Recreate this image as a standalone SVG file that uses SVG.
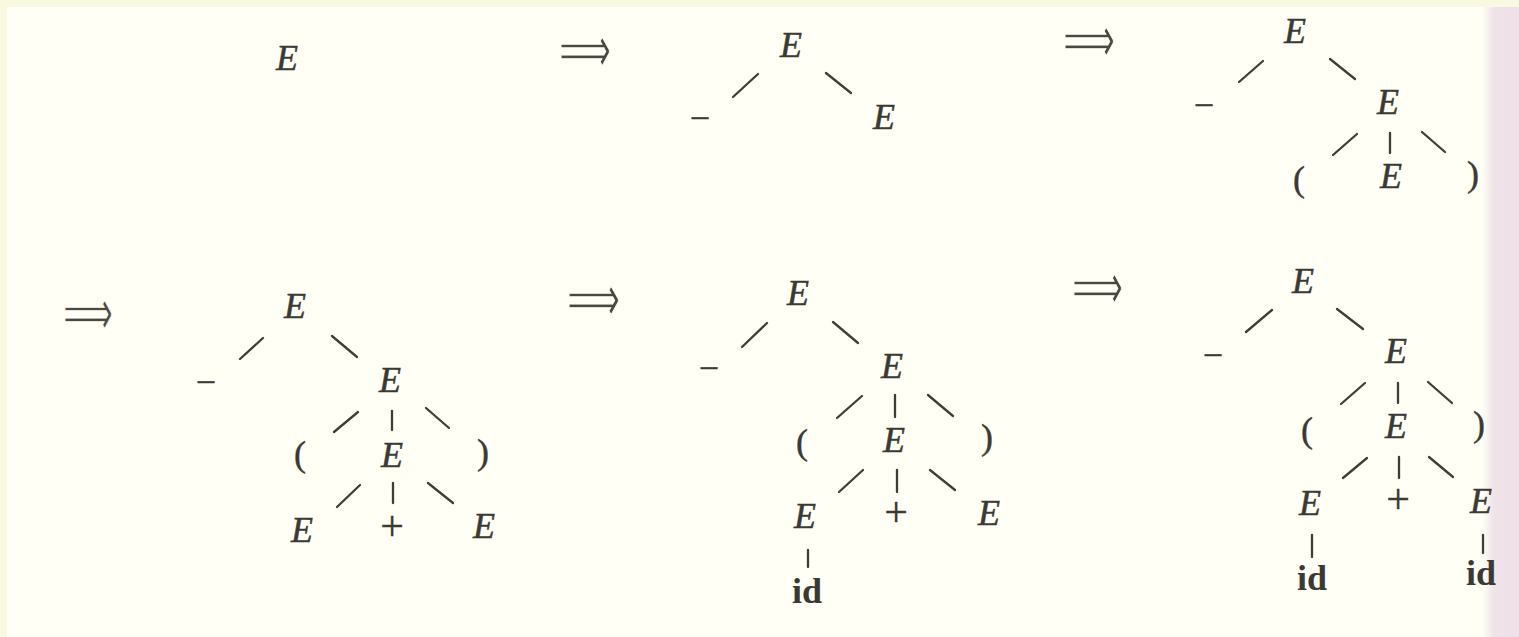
<svg xmlns="http://www.w3.org/2000/svg" width="1519" height="637" viewBox="0 0 1519 637">
<defs>
<style>
.e{font-family:"Liberation Serif",serif;font-style:italic;font-size:36px;fill:#3a3933;stroke:#3a3933;stroke-width:0.5;text-anchor:middle}
.t{font-family:"Liberation Serif",serif;font-size:36px;fill:#3a3933;stroke:#3a3933;stroke-width:0.4;text-anchor:middle}
.p{font-family:"Liberation Serif",serif;font-size:42px;fill:#3a3933;stroke:#3a3933;stroke-width:0.3;text-anchor:middle}
.b{font-family:"Liberation Serif",serif;font-weight:bold;font-size:36px;fill:#3a3933;text-anchor:middle}
.arr{font-family:"DejaVu Sans",sans-serif;font-size:66px;fill:#4a4842;stroke:#fffff5;stroke-width:1.3;text-anchor:start}
.c line{stroke:#3f3d37;stroke-width:2.3;stroke-linecap:round}
</style>
<linearGradient id="edge" x1="1482" y1="0" x2="1519" y2="0" gradientUnits="userSpaceOnUse">
<stop offset="0" stop-color="#f2e6ea" stop-opacity="0"/>
<stop offset="0.3" stop-color="#efe4e8" stop-opacity="1"/>
<stop offset="1" stop-color="#f1dfe9" stop-opacity="1"/>
</linearGradient>
</defs>
<rect x="0" y="0" width="1519" height="637" fill="#f9f8e1"/>
<rect x="7" y="7" width="1512" height="630" fill="#fffff5"/>
<rect x="1482" y="7" width="37" height="630" fill="url(#edge)"/>

<g id="arrows">
<text class="arr" x="559" y="72" textLength="52" lengthAdjust="spacingAndGlyphs">⟹</text>
<text class="arr" x="1063" y="62" textLength="52" lengthAdjust="spacingAndGlyphs">⟹</text>
<text class="arr" x="63" y="335" textLength="50" lengthAdjust="spacingAndGlyphs">⟹</text>
<text class="arr" x="567" y="321" textLength="53" lengthAdjust="spacingAndGlyphs">⟹</text>
<text class="arr" x="1072" y="309" textLength="51" lengthAdjust="spacingAndGlyphs">⟹</text>
</g>

<g id="connectors" class="c">
<line x1="733" y1="97" x2="758" y2="74"/>
<line x1="826" y1="73" x2="851" y2="93"/>
<line x1="1239" y1="82" x2="1263" y2="61"/>
<line x1="1330" y1="59" x2="1355" y2="79"/>
<line x1="1333" y1="155" x2="1357" y2="134"/>
<line x1="1390" y1="133" x2="1390" y2="153"/>
<line x1="1422" y1="132" x2="1445" y2="152"/>
<line x1="240" y1="359" x2="263" y2="338"/>
<line x1="332" y1="336" x2="357" y2="357"/>
<line x1="334" y1="432" x2="358" y2="412"/>
<line x1="392" y1="411" x2="392" y2="430"/>
<line x1="426" y1="408" x2="449" y2="428"/>
<line x1="337" y1="507" x2="360" y2="485"/>
<line x1="393" y1="483" x2="393" y2="503"/>
<line x1="428" y1="483" x2="453" y2="503"/>
<line x1="742" y1="347" x2="767" y2="323"/>
<line x1="833" y1="322" x2="858" y2="343"/>
<line x1="837" y1="418" x2="862" y2="396"/>
<line x1="895" y1="395" x2="895" y2="417"/>
<line x1="928" y1="395" x2="953" y2="416"/>
<line x1="839" y1="492" x2="863" y2="470"/>
<line x1="897" y1="470" x2="897" y2="492"/>
<line x1="930" y1="470" x2="955" y2="490"/>
<line x1="808" y1="550" x2="808" y2="567"/>
<line x1="1246" y1="332" x2="1272" y2="310"/>
<line x1="1337" y1="309" x2="1363" y2="329"/>
<line x1="1341" y1="404" x2="1365" y2="383"/>
<line x1="1398" y1="383" x2="1398" y2="403"/>
<line x1="1428" y1="382" x2="1452" y2="403"/>
<line x1="1343" y1="478" x2="1367" y2="458"/>
<line x1="1399" y1="457" x2="1399" y2="478"/>
<line x1="1429" y1="457" x2="1453" y2="477"/>
<line x1="1312" y1="535" x2="1312" y2="557"/>
<line x1="1483" y1="535" x2="1483" y2="553"/>
</g>

<g id="t1_E"><text class="e" x="287" y="70">E</text></g>

<g id="t2_E"><text class="e" x="791" y="57">E</text></g>
<g id="t2_minus"><text class="t" x="700" y="130">−</text></g>
<g id="t2_E2"><text class="e" x="884" y="129">E</text></g>

<g id="t3_E"><text class="e" x="1295" y="43">E</text></g>
<g id="t3_minus"><text class="t" x="1204" y="117">−</text></g>
<g id="t3_E2"><text class="e" x="1388" y="114">E</text></g>
<g id="t3_lp"><text class="t" x="1299" y="191">(</text></g>
<g id="t3_E3"><text class="e" x="1391" y="188">E</text></g>
<g id="t3_rp"><text class="t" x="1473" y="186">)</text></g>

<g id="t4_E"><text class="e" x="295" y="318">E</text></g>
<g id="t4_minus"><text class="t" x="206" y="394">−</text></g>
<g id="t4_E2"><text class="e" x="390" y="392">E</text></g>
<g id="t4_lp"><text class="t" x="300" y="466">(</text></g>
<g id="t4_E3"><text class="e" x="392" y="467">E</text></g>
<g id="t4_rp"><text class="t" x="483" y="464">)</text></g>
<g id="t4_E4"><text class="e" x="302" y="542">E</text></g>
<g id="t4_plus"><text class="p" x="392" y="540">+</text></g>
<g id="t4_E5"><text class="e" x="484" y="538">E</text></g>

<g id="t5_E"><text class="e" x="798" y="305">E</text></g>
<g id="t5_minus"><text class="t" x="709" y="380">−</text></g>
<g id="t5_E2"><text class="e" x="892" y="378">E</text></g>
<g id="t5_lp"><text class="t" x="802" y="454">(</text></g>
<g id="t5_E3"><text class="e" x="894" y="452">E</text></g>
<g id="t5_rp"><text class="t" x="987" y="449">)</text></g>
<g id="t5_E4"><text class="e" x="805" y="528">E</text></g>
<g id="t5_plus"><text class="p" x="896" y="526">+</text></g>
<g id="t5_E5"><text class="e" x="989" y="525">E</text></g>
<g id="t5_id"><text class="b" x="807" y="603">id</text></g>

<g id="t6_E"><text class="e" x="1303" y="293">E</text></g>
<g id="t6_minus"><text class="t" x="1213" y="367">−</text></g>
<g id="t6_E2"><text class="e" x="1396" y="363">E</text></g>
<g id="t6_lp"><text class="t" x="1307" y="442">(</text></g>
<g id="t6_E3"><text class="e" x="1396" y="438">E</text></g>
<g id="t6_rp"><text class="t" x="1479" y="436">)</text></g>
<g id="t6_E4"><text class="e" x="1310" y="515">E</text></g>
<g id="t6_plus"><text class="p" x="1398" y="513">+</text></g>
<g id="t6_E5"><text class="e" x="1481" y="513">E</text></g>
<g id="t6_id1"><text class="b" x="1312" y="590">id</text></g>
<g id="t6_id2"><text class="b" x="1481" y="585">id</text></g>
</svg>
